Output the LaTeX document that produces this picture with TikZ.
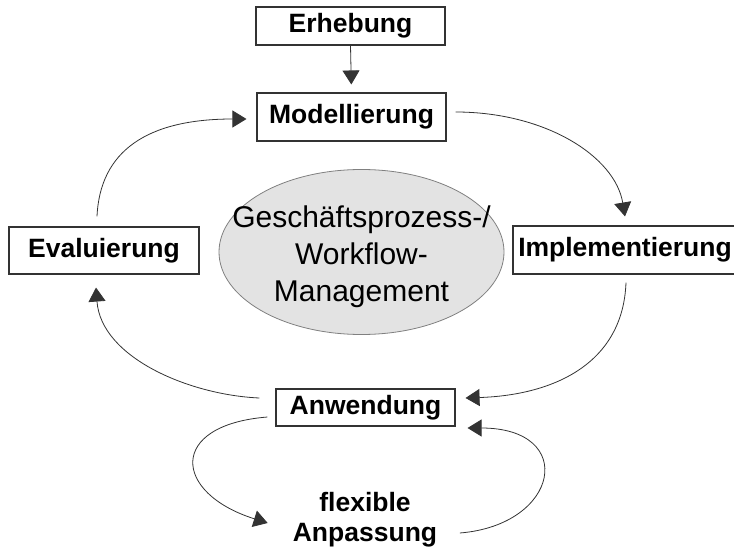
\documentclass[tikz,border=0pt]{standalone}
\usepackage{fontspec}
\setmainfont{Liberation Sans}
\usetikzlibrary{arrows.meta,shapes.geometric}
\begin{document}
\begin{tikzpicture}[x=1pt,y=-1pt,
  stage/.style={draw=black!80, line width=1.1pt, fill=white, inner sep=0pt,
    font=\fontsize{26.5}{30}\selectfont\bfseries},
  flow/.style={draw=black!80, line width=0.8pt,
    -{Triangle[length=14pt,width=17pt]}},
]
\useasboundingbox (0,0) rectangle (734,548);

% central topic
\node[ellipse, draw=black!50, line width=0.8pt, fill=black!11,
      minimum width=285pt, minimum height=165pt, inner sep=0pt] (gm) at (361.5,252) {};
\node[inner sep=0pt, align=center, font=\fontsize{30}{37}\selectfont]
      (gmlabel) at ([yshift=-5pt]gm.center)
      {Geschäftsprozess-/\\Workflow-\\Management};

% phases of the cycle
\node[stage, minimum width=189pt, minimum height=38pt] (erh) at (350.5,26) {Erhebung};
\node[stage, minimum width=189pt, minimum height=48pt] (mod) at (351.5,117) {Modellierung};
\node[stage, minimum width=190pt, minimum height=47pt] (eva) at (104,250.5) {Evaluierung};
\node[stage, minimum width=224pt, minimum height=48pt] (imp) at (625,250) {Implementierung};
\node[stage, minimum width=179pt, minimum height=37pt] (anw) at (365.5,407.5) {Anwendung};
\node[inner sep=0pt, align=center, font=\fontsize{26.5}{30}\selectfont\bfseries]
      (flex) at (365,520) {flexible\\Anpassung};

% connectors
\draw[flow, shorten >=8pt] (erh.south) -- (mod.north);
\draw[flow] ([xshift=-7pt,yshift=10pt]eva.north)
   .. controls +(3,-65) and +(-100,0) .. ([xshift=-10pt,yshift=-2pt]mod.west);
\draw[flow] ([xshift=9pt,yshift=5pt]mod.east)
   .. controls +(90,0) and +(-10,-60) .. ([yshift=9pt]imp.north);
\draw[flow] ([xshift=1pt,yshift=-8pt]imp.south)
   .. controls +(-3,80) and +(90,-3) .. ([xshift=10pt,yshift=9.5pt]anw.east);
\draw[flow] ([xshift=-16pt,yshift=9.5pt]anw.west)
   .. controls +(-70,-3) and +(5,70) .. ([xshift=-8pt,yshift=-13pt]eva.south);
\draw[flow] ([xshift=-8pt,yshift=-9.5pt]anw.west)
   .. controls +(-100,8) and +(-95,-30) .. ([xshift=-25pt,yshift=-3pt]flex.west);
\draw[flow] ([xshift=22.5pt,yshift=-13pt]flex.east)
   .. controls +(100,-8) and +(110,0) .. ([xshift=12pt,yshift=-20.5pt]anw.east);
\end{tikzpicture}
\end{document}
